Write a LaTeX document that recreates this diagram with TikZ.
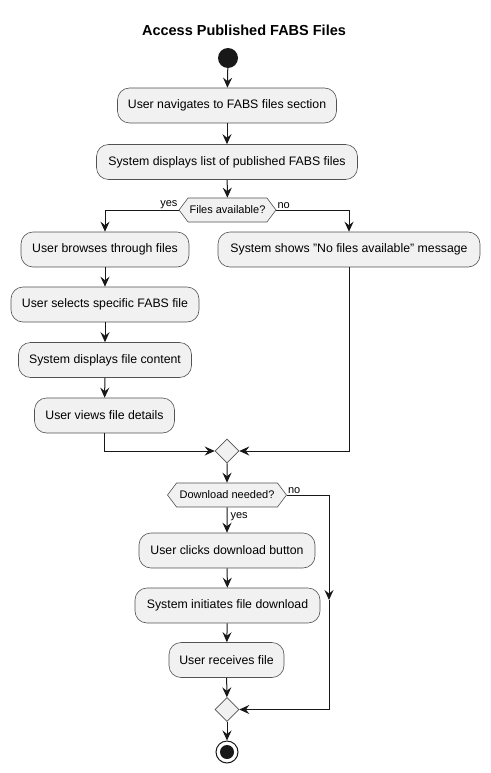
\documentclass[tikz,border=0pt]{standalone}
\usepackage{fontspec}
\setmainfont{Liberation Sans}
\usetikzlibrary{arrows.meta,shapes.geometric,shapes.symbols}
\definecolor{boxfill}{HTML}{F1F1F1}
\definecolor{ink}{HTML}{181818}
\tikzset{
  act/.style={rectangle, rounded corners=12pt, draw=ink!75, line width=0.6pt, fill=boxfill, minimum height=35pt, inner sep=0pt, font=\fontsize{12.3}{14}\selectfont, text=black},
  hexa/.style={signal, signal to=east and west, signal pointer angle=106, draw=ink!75, line width=0.6pt, fill=boxfill, minimum height=24pt, inner sep=0pt, font=\fontsize{11}{13}\selectfont},
  merge/.style={diamond, aspect=1, draw=ink!75, line width=0.6pt, fill=boxfill, minimum width=24pt, minimum height=24pt, inner sep=0pt},
  arr/.style={-{Stealth[length=10pt,width=9pt,inset=3.5pt]}, line width=1pt, draw=ink},
  line/.style={line width=1pt, draw=ink},
  lbl/.style={font=\fontsize{11}{13}\selectfont, inner sep=1pt},
}
\begin{document}
\begin{tikzpicture}[x=1pt,y=-1pt]
\useasboundingbox (0,0) rectangle (490,773);
\node[font=\bfseries\fontsize{14.5}{16}\selectfont] (title) at (244,30) {Access Published FABS Files};
\node[circle, fill=ink, minimum size=20pt, inner sep=0pt] (start) at (228,58) {};
\node[act, minimum width=219pt] (b1) at (227,105.5) {User navigates to FABS files section};
\node[act, minimum width=261pt] (b2) at (227,162) {System displays list of published FABS files};
\node[hexa, minimum width=97pt] (d1) at (227.5,210) {Files available?};
\node[act, minimum width=168pt] (b3) at (105,249.5) {User browses through files};
\node[act, minimum width=262pt] (b7) at (349,249.5) {System shows "No files available" message};
\node[act, minimum width=188pt] (b4) at (105,304.5) {User selects specific FABS file};
\node[act, minimum width=173pt] (b5) at (105,360) {System displays file content};
\node[act, minimum width=140pt] (b6) at (104.5,415.5) {User views file details};
\node[merge] (m1) at (227,451) {};
\node[hexa, minimum width=119pt] (d2) at (227,495) {Download needed?};
\node[act, minimum width=176pt] (b8) at (227,550.5) {User clicks download button};
\node[act, minimum width=185pt] (b9) at (227.5,605.5) {System initiates file download};
\node[act, minimum width=115pt] (b10) at (226.5,660) {User receives file};
\node[merge] (m2) at (227,709.5) {};
\node[circle, draw=ink, line width=1pt, fill=white, minimum size=22pt, inner sep=0pt] (endo) at (227,752) {};
\node[circle, fill=ink, minimum size=14pt, inner sep=0pt] (endi) at (227,752) {};
\coordinate (c1) at (329,495);
\coordinate (cm) at (329,600);
\draw[arr] (start) -- (b1);
\draw[arr] (b1) -- (b2);
\draw[arr] (b2) -- (d1);
\draw[arr] (d1.west) -| (b3.north);
\draw[arr] (d1.east) -| (b7.north);
\node[lbl, anchor=south east] (yes1) at (d1.west) {yes};
\node[lbl, anchor=south west] (no1) at (d1.east) {no};
\draw[arr] (b3) -- (b4);
\draw[arr] (b4) -- (b5);
\draw[arr] (b5) -- (b6);
\draw[arr] (b6.south) |- (m1.west);
\draw[arr] (b7.south) |- (m1.east);
\draw[arr] (m1) -- (d2);
\draw[arr] (d2) -- (b8) node[lbl, pos=0.35, anchor=west, xshift=2pt] (yes2) {yes};
\node[lbl, anchor=south west] (no2) at (d2.east) {no};
\draw[arr] (b8) -- (b9);
\draw[arr] (b9) -- (b10);
\draw[arr] (b10) -- (m2);
\draw[line] (d2.east) -- (c1);
\draw[arr] (c1) -- (cm);
\draw[arr] (cm) |- (m2.east);
\draw[arr] (m2) -- (endo);
\end{tikzpicture}
\end{document}
